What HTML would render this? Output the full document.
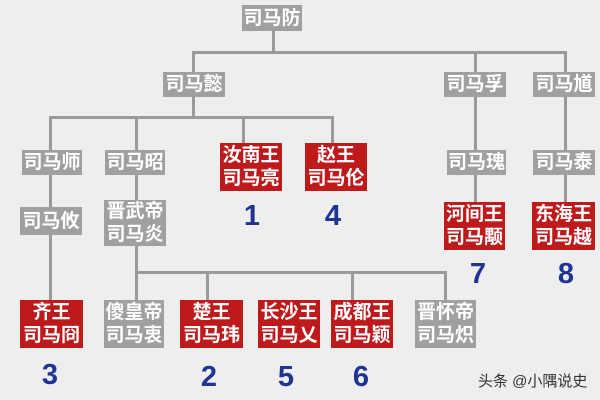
<!DOCTYPE html>
<html><head><meta charset="utf-8"><style>
body{margin:0;width:600px;height:400px;background:#eeeeee;position:relative;overflow:hidden;font-family:"Liberation Sans","Noto Sans CJK SC",sans-serif}
.l{position:absolute;background:#9a9a9a}
.b{position:absolute;color:#fff;font-weight:bold;font-size:19px;line-height:23px;text-align:center;display:flex;flex-direction:column;justify-content:center;align-items:center}
.g{background:#a0a0a0}
.r{background:#be1a1c}
.n{position:absolute;color:#1f3393;font-size:29px;font-weight:bold;font-family:"Liberation Sans",sans-serif;width:40px;text-align:center;line-height:30px}
</style></head><body>
<div class="l" style="left:272px;top:30px;width:3px;height:23px"></div>
<div class="l" style="left:192px;top:51px;width:375px;height:3px"></div>
<div class="l" style="left:192px;top:51px;width:3px;height:22px"></div>
<div class="l" style="left:474px;top:51px;width:3px;height:22px"></div>
<div class="l" style="left:564px;top:51px;width:3px;height:22px"></div>
<div class="l" style="left:192px;top:96px;width:3px;height:22px"></div>
<div class="l" style="left:49px;top:116px;width:285px;height:3px"></div>
<div class="l" style="left:49px;top:116px;width:3px;height:184px"></div>
<div class="l" style="left:135px;top:116px;width:3px;height:184px"></div>
<div class="l" style="left:242px;top:116px;width:3px;height:28px"></div>
<div class="l" style="left:331px;top:116px;width:3px;height:28px"></div>
<div class="l" style="left:474px;top:96px;width:3px;height:106px"></div>
<div class="l" style="left:564px;top:96px;width:3px;height:106px"></div>
<div class="l" style="left:135px;top:271px;width:312px;height:3px"></div>
<div class="l" style="left:206px;top:271px;width:3px;height:29px"></div>
<div class="l" style="left:351px;top:271px;width:3px;height:29px"></div>
<div class="l" style="left:444px;top:271px;width:3px;height:29px"></div>
<div class="b g" style="left:242px;top:5px;width:60px;height:26px">司马防</div>
<div class="b g" style="left:163px;top:72px;width:62px;height:25px">司马懿</div>
<div class="b g" style="left:444px;top:72px;width:62px;height:25px">司马孚</div>
<div class="b g" style="left:533px;top:72px;width:62px;height:25px">司马馗</div>
<div class="b g" style="left:22px;top:150px;width:60px;height:25px">司马师</div>
<div class="b g" style="left:105px;top:150px;width:60px;height:25px">司马昭</div>
<div class="b r" style="left:220px;top:143px;width:62px;height:48px">汝南王<br>司马亮</div>
<div class="b r" style="left:305px;top:143px;width:62px;height:48px">赵王<br>司马伦</div>
<div class="b g" style="left:447px;top:150px;width:59px;height:25px">司马瑰</div>
<div class="b g" style="left:533px;top:150px;width:62px;height:25px">司马泰</div>
<div class="b g" style="left:20px;top:207px;width:62px;height:28px">司马攸</div>
<div class="b g" style="left:104px;top:200px;width:62px;height:46px">晋武帝<br>司马炎</div>
<div class="b r" style="left:444px;top:202px;width:61px;height:48px">河间王<br>司马颙</div>
<div class="b r" style="left:532px;top:202px;width:63px;height:48px">东海王<br>司马越</div>
<div class="b r" style="left:20px;top:300px;width:63px;height:48px">齐王<br>司马冏</div>
<div class="b g" style="left:104px;top:300px;width:60px;height:48px">傻皇帝<br>司马衷</div>
<div class="b r" style="left:180px;top:300px;width:63px;height:48px">楚王<br>司马玮</div>
<div class="b r" style="left:258px;top:300px;width:62px;height:48px">长沙王<br>司马乂</div>
<div class="b r" style="left:331px;top:300px;width:62px;height:48px">成都王<br>司马颖</div>
<div class="b g" style="left:415px;top:300px;width:61px;height:48px">晋怀帝<br>司马炽</div>
<div class="n" style="left:232px;top:201px">1</div>
<div class="n" style="left:313px;top:201px">4</div>
<div class="n" style="left:458px;top:259px">7</div>
<div class="n" style="left:546px;top:259px">8</div>
<div class="n" style="left:30px;top:360px">3</div>
<div class="n" style="left:189px;top:362px">2</div>
<div class="n" style="left:266px;top:362px">5</div>
<div class="n" style="left:341px;top:362px">6</div>
<div style="position:absolute;left:478px;top:370px;font-size:15px;color:#333">头条 @小隅说史</div>
</body></html>
